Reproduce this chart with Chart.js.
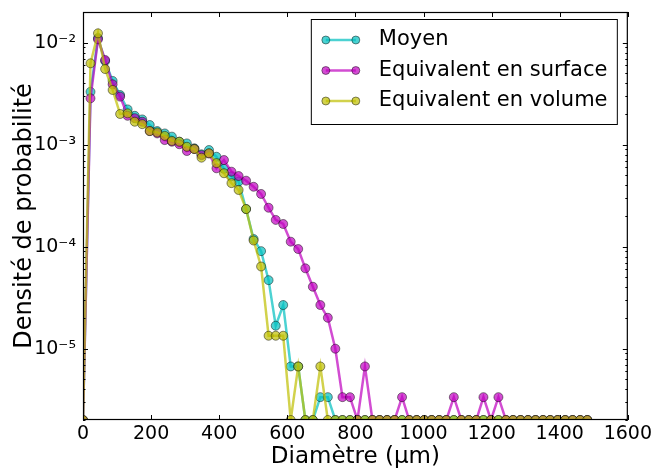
<!DOCTYPE html>
<html>
<head>
<meta charset="utf-8">
<script src="https://cdn.jsdelivr.net/npm/chart.js@4.4.1/dist/chart.umd.min.js"></script>
<style>
  html, body { margin: 0; padding: 0; background: #fff; }
  #wrap { width: 655px; height: 474px; }
</style>
</head>
<body>
<div id="wrap"><canvas id="chart" width="655" height="474"></canvas></div>
<script>
// bin positions (µm)
const DIAMETERS = [0, 22, 44, 65, 87, 109, 131, 152, 174, 196, 218, 240, 261, 283, 305, 327, 348, 370, 392, 414,
    436, 457, 479, 501, 523, 545, 566, 588, 610, 632, 653, 675, 697, 719, 741, 762, 784, 806, 828, 850,
    871, 893, 915, 937, 958, 980, 1002, 1024, 1046, 1067, 1089, 1111, 1133, 1155, 1176, 1198, 1220, 1242, 1263, 1285,
    1307, 1329, 1351, 1372, 1394, 1416, 1438, 1460, 1481];

// probability densities, 0 = empty bin (shown on the bottom edge)
const MOYEN = [0, 3.3e-3, 1.11e-2, 6.6e-3, 4.22e-3, 3.07e-3, 2.22e-3, 1.92e-3, 1.77e-3, 1.56e-3,
    1.36e-3, 1.29e-3, 1.20e-3, 1.07e-3, 1.03e-3, 9.22e-4, 8.05e-4, 8.87e-4, 7.62e-4, 5.8e-4,
    4.9e-4, 4.34e-4, 2.34e-4, 1.19e-4, 9.05e-5, 4.7e-5, 1.68e-5, 2.68e-5, 6.7e-6, 6.7e-6,
    0, 0, 3.35e-6, 3.35e-6, 0, 0, 0, 0, 0, 0,
    0, 0, 0, 0, 0, 0, 0, 0, 0, 0,
    0, 0, 0, 0, 0, 0, 0, 0, 0, 0,
    0, 0, 0, 0, 0, 0, 0, 0, 0];
const SURFACE = [0, 2.85e-3, 1.08e-2, 6.77e-3, 3.91e-3, 2.96e-3, 1.92e-3, 1.82e-3, 1.68e-3, 1.36e-3,
    1.29e-3, 1.11e-3, 1.07e-3, 1.01e-3, 8.67e-4, 9.07e-4, 7.9e-4, 8.2e-4, 5.87e-4, 7.08e-4,
    5.44e-4, 4.93e-4, 4.44e-4, 3.87e-4, 3.29e-4, 2.41e-4, 1.83e-4, 1.67e-4, 1.12e-4, 9.49e-5,
    6.14e-5, 4.05e-5, 2.68e-5, 2.01e-5, 1.0e-5, 3.35e-6, 3.35e-6, 0, 6.7e-6, 0,
    0, 0, 0, 3.35e-6, 0, 0, 0, 0, 0, 0,
    3.35e-6, 0, 0, 0, 3.35e-6, 0, 3.35e-6, 0, 0, 0,
    0, 0, 0, 0, 0, 0, 0, 0, 0];
const VOLUME = [0, 6.28e-3, 1.236e-2, 5.52e-3, 3.44e-3, 2.0e-3, 2.03e-3, 1.68e-3, 1.59e-3, 1.36e-3,
    1.32e-3, 1.22e-3, 1.09e-3, 1.07e-3, 9.55e-4, 9.07e-4, 7.46e-4, 8.24e-4, 6.6e-4, 5.25e-4,
    4.2e-4, 3.6e-4, 2.34e-4, 1.15e-4, 6.4e-5, 1.34e-5, 1.34e-5, 1.34e-5, 0, 6.7e-6,
    0, 0, 6.7e-6, 0, 0, 0, 0, 0, 0, 0,
    0, 0, 0, 0, 0, 0, 0, 0, 0, 0,
    0, 0, 0, 0, 0, 0, 0, 0, 0, 0,
    0, 0, 0, 0, 0, 0, 0, 0, 0];

const X_TICKS = [0, 200, 400, 600, 800, 1000, 1200, 1400, 1600];
const Y_DECADES = [1e-6, 1e-5, 1e-4, 1e-3, 1e-2];
const Y_DECADE_LABELS = ['10⁻⁶', '10⁻⁵', '10⁻⁴', '10⁻³', '10⁻²'];
const Y_MIN = 2e-6;
const Y_MAX = 2e-2;

const FONT = "'DejaVu Sans', sans-serif";

const toPoints = (values) => DIAMETERS.map((d, i) => ({ x: d, y: values[i] > 0 ? values[i] : Y_MIN }));

const makeSet = (label, values, rgb, order) => ({
    label,
    data: toPoints(values),
    borderColor: `rgba(${rgb},0.7)`,
    backgroundColor: `rgba(${rgb},0.7)`,
    pointBorderColor: 'rgba(0,0,0,0.45)',
    pointBorderWidth: 1,
    pointRadius: 4.5,
    pointHoverRadius: 4.5,
    borderWidth: 2.5,
    tension: 0,
    clip: 0,
    order,
});

// inward ticks on all four sides plus the axes frame
const frameTicks = {
    id: 'frameTicks',
    afterDatasetsDraw(chart) {
        const { ctx, chartArea: a, scales } = chart;
        ctx.save();
        ctx.strokeStyle = '#000';
        ctx.lineWidth = 1;
        ctx.beginPath();
        scales.x.ticks.forEach((t) => {
            const px = Math.round(scales.x.getPixelForValue(t.value)) + 0.5;
            ctx.moveTo(px, a.bottom); ctx.lineTo(px, a.bottom - 5);
            ctx.moveTo(px, a.top); ctx.lineTo(px, a.top + 5);
        });
        scales.y.ticks.forEach((t) => {
            const e = Math.log10(t.value);
            const len = Math.abs(e - Math.round(e)) < 1e-6 ? 5 : 2.5;
            const py = Math.round(scales.y.getPixelForValue(t.value)) + 0.5;
            ctx.moveTo(a.left, py); ctx.lineTo(a.left + len, py);
            ctx.moveTo(a.right, py); ctx.lineTo(a.right - len, py);
        });
        ctx.stroke();
        ctx.lineWidth = 1.2;
        ctx.strokeRect(a.left + 0.5, a.top + 0.5, a.right - a.left - 1, a.bottom - a.top - 1);
        ctx.restore();
    },
};

// framed legend with line + two markers per entry
const boxLegend = {
    id: 'boxLegend',
    afterDraw(chart) {
        const { ctx, chartArea: a } = chart;
        const x0 = a.right - 317;
        const y0 = a.top + 7;
        const w = 306;
        const h = 105;
        ctx.save();
        ctx.fillStyle = '#fff';
        ctx.fillRect(x0, y0, w, h);
        ctx.strokeStyle = '#000';
        ctx.lineWidth = 1;
        ctx.strokeRect(x0 + 0.5, y0 + 0.5, w, h);
        ctx.font = `21px ${FONT}`;
        ctx.textBaseline = 'middle';
        chart.data.datasets.forEach((ds, i) => {
            const y = y0 + 21 + i * 30.5;
            const xa = x0 + 15;
            const xb = x0 + 45;
            ctx.strokeStyle = ds.borderColor;
            ctx.lineWidth = ds.borderWidth;
            ctx.beginPath();
            ctx.moveTo(xa, y); ctx.lineTo(xb, y);
            ctx.stroke();
            [xa, xb].forEach((px) => {
                ctx.beginPath();
                ctx.arc(px, y, 4, 0, Math.PI * 2);
                ctx.fillStyle = ds.backgroundColor;
                ctx.fill();
                ctx.strokeStyle = ds.pointBorderColor;
                ctx.lineWidth = 1;
                ctx.stroke();
            });
            ctx.fillStyle = '#000';
            ctx.fillText(ds.label, x0 + 68, y);
        });
        ctx.restore();
    },
};

new Chart(document.getElementById('chart'), {
    type: 'line',
    data: {
        datasets: [
            makeSet('Moyen', MOYEN, '0,191,191', 3),
            makeSet('Equivalent en surface', SURFACE, '191,0,191', 2),
            makeSet('Equivalent en volume', VOLUME, '191,191,0', 1),
        ],
    },
    options: {
        responsive: false,
        animation: false,
        events: [],
        layout: { padding: { top: 12, right: 26, left: 0, bottom: 0 } },
        plugins: { legend: { display: false }, tooltip: { enabled: false } },
        scales: {
            x: {
                type: 'linear',
                min: 0,
                max: 1600,
                afterBuildTicks: (s) => { s.ticks = X_TICKS.map((v) => ({ value: v })); },
                afterFit: (s) => { s.height = 54; },
                grid: { display: false, drawTicks: false },
                border: { display: false },
                ticks: {
                    color: '#000',
                    font: { family: FONT, size: 19 },
                    padding: 3,
                    maxRotation: 0,
                    callback: (v) => String(v),
                },
                title: {
                    display: true,
                    text: 'Diamètre (μm)',
                    color: '#000',
                    font: { family: FONT, size: 23 },
                    padding: { top: 0, bottom: 3 },
                },
            },
            y: {
                type: 'logarithmic',
                min: Y_MIN,
                max: Y_MAX,
                afterBuildTicks: (s) => {
                    const ticks = [];
                    Y_DECADES.forEach((d) => {
                        for (let m = 1; m < 10; m++) {
                            const v = m * d;
                            if (v >= Y_MIN * 0.999 && v <= Y_MAX * 1.001) ticks.push({ value: v });
                        }
                    });
                    s.ticks = ticks;
                },
                afterFit: (s) => {
                    s.width = 83;
                    s.paddingTop = 0;
                    s.paddingBottom = 0;
                },
                grid: { display: false, drawTicks: false },
                border: { display: false },
                ticks: {
                    color: '#000',
                    font: { family: FONT, size: 19 },
                    padding: 7,
                    autoSkip: false,
                    callback: (v) => {
                        const i = Y_DECADES.findIndex((d) => Math.abs(Math.log10(v) - Math.log10(d)) < 1e-6);
                        return i >= 0 ? Y_DECADE_LABELS[i] : '';
                    },
                },
                title: {
                    display: true,
                    text: 'Densité de probabilité',
                    color: '#000',
                    font: { family: FONT, size: 24 },
                    padding: { top: 10, bottom: 0 },
                },
            },
        },
    },
    plugins: [frameTicks, boxLegend],
});
</script>
</body>
</html>
